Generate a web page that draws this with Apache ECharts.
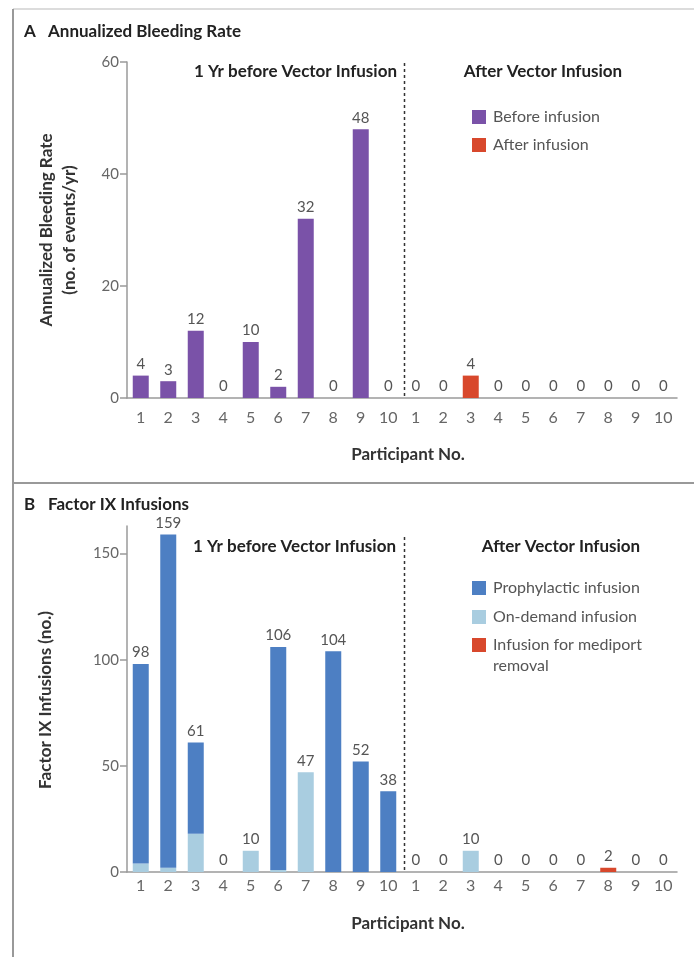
<!DOCTYPE html>
<html>
<head>
<meta charset="utf-8">
<script src="https://cdn.jsdelivr.net/npm/echarts@6/dist/echarts.min.js"></script>
<style>
  html, body { margin: 0; padding: 0; background: #fff; }
  #chart { width: 694px; height: 957px; }
</style>
</head>
<body>
<div id="chart"></div>
<script>
// Participant numbers shown under each half of both panels
const participants = [1, 2, 3, 4, 5, 6, 7, 8, 9, 10];

// Panel A: annualized bleeding rate (events/yr)
const bleedBefore = [4, 3, 12, 0, 10, 2, 32, 0, 48, 0];
const bleedAfter = [0, 0, 4, 0, 0, 0, 0, 0, 0, 0];

// Panel B: factor IX infusions (no.)
const prophBefore = [94, 157, 43, 0, 0, 105, 0, 104, 52, 38];
const demandBefore = [4, 2, 18, 0, 10, 1, 47, 0, 0, 0];
const mediportBefore = [0, 0, 0, 0, 0, 0, 0, 0, 0, 0];
const prophAfter = [0, 0, 0, 0, 0, 0, 0, 0, 0, 0];
const demandAfter = [0, 0, 10, 0, 0, 0, 0, 0, 0, 0];
const mediportAfter = [0, 0, 0, 0, 0, 0, 0, 2, 0, 0];

// Axis ticks
const ticksA = [0, 20, 40, 60];
const ticksB = [0, 50, 100, 150];

const FONT = 'Lato, "DejaVu Sans", sans-serif';
const C_PURPLE = '#7a52a8';
const C_RED = '#d8482c';
const C_BLUE = '#4d7fc3';
const C_LIGHT = '#a9cde0';
const C_AXIS = '#9a9a9a';
const C_TICKTXT = '#666';
const C_LABEL = '#555';

// 20 unique category keys: b1..b10 then a1..a10
const cats = participants.map(p => 'b' + p).concat(participants.map(p => 'a' + p));
const pad = n => new Array(n).fill('-');
const both = (before, after) => before.concat(after);

const totalsB = both(prophBefore, prophAfter).map((v, i) =>
  v + both(demandBefore, demandAfter)[i] + both(mediportBefore, mediportAfter)[i]);

const chart = echarts.init(document.getElementById('chart'), null, { renderer: 'canvas' });

function xAxisDef(gridIndex, labelMargin, nameGap) {
  return {
    type: 'category', gridIndex: gridIndex, data: cats,
    axisLine: { lineStyle: { color: C_AXIS, width: 1.5 } },
    axisTick: { alignWithLabel: true, length: 7, lineStyle: { color: C_AXIS, width: 1.5 } },
    axisLabel: {
      color: C_TICKTXT, fontFamily: FONT, fontSize: 16, margin: labelMargin, interval: 0,
      formatter: v => v.slice(1)
    },
    name: 'Participant No.', nameLocation: 'middle', nameGap: nameGap,
    nameTextStyle: { color: '#333', fontFamily: FONT, fontSize: 17, fontWeight: 'bold', padding: [0, 0, 0, 12] }
  };
}

function yAxisDef(gridIndex, max, ticks) {
  return {
    type: 'value', gridIndex: gridIndex, min: 0, max: max,
    axisLine: { show: true, lineStyle: { color: C_AXIS, width: 1.5 } },
    axisTick: { show: true, length: 7, customValues: ticks, lineStyle: { color: C_AXIS, width: 1.5 } },
    axisLabel: { color: C_TICKTXT, fontFamily: FONT, fontSize: 15, margin: 8, customValues: ticks },
    splitLine: { show: false }
  };
}

const labelStyle = {
  show: true, position: 'top', distance: 4,
  color: C_LABEL, fontFamily: FONT, fontSize: 15
};

const option = {
  animation: false,
  backgroundColor: '#fff',
  grid: [
    { left: 127, width: 550, top: 62, height: 336 },
    { left: 127, width: 550, top: 526, height: 346 }
  ],
  xAxis: [xAxisDef(0, 12, 48), xAxisDef(1, 6, 43)],
  yAxis: [yAxisDef(0, 60, ticksA), yAxisDef(1, 163, ticksB)],
  series: [
    {
      name: 'Before infusion', type: 'bar', xAxisIndex: 0, yAxisIndex: 0, stack: 'a',
      barWidth: 16, data: bleedBefore.concat(pad(10)),
      itemStyle: { color: C_PURPLE }, label: labelStyle
    },
    {
      name: 'After infusion', type: 'bar', xAxisIndex: 0, yAxisIndex: 0, stack: 'a',
      barWidth: 16, data: pad(10).concat(bleedAfter),
      itemStyle: { color: C_RED }, label: labelStyle
    },
    {
      name: 'On-demand infusion', type: 'bar', xAxisIndex: 1, yAxisIndex: 1, stack: 'b',
      barWidth: 16, data: both(demandBefore, demandAfter),
      itemStyle: { color: C_LIGHT }
    },
    {
      name: 'Prophylactic infusion', type: 'bar', xAxisIndex: 1, yAxisIndex: 1, stack: 'b',
      barWidth: 16, data: both(prophBefore, prophAfter),
      itemStyle: { color: C_BLUE }
    },
    {
      name: 'Infusion for mediport removal', type: 'bar', xAxisIndex: 1, yAxisIndex: 1, stack: 'b',
      barWidth: 16, data: both(mediportBefore, mediportAfter),
      itemStyle: { color: C_RED }
    },
    {
      // zero-height cap carrying the total count above each stack
      name: 'total', type: 'bar', xAxisIndex: 1, yAxisIndex: 1, stack: 'b',
      barWidth: 16, data: totalsB.map(() => 0),
      itemStyle: { color: 'rgba(0,0,0,0)' },
      label: Object.assign({}, labelStyle, { formatter: p => String(totalsB[p.dataIndex]) })
    }
  ]
};

chart.setOption(option);

// Separator between the "before" and "after" halves
function dividerX(gridIdx) {
  const x9 = chart.convertToPixel({ xAxisIndex: gridIdx }, 'b10');
  const x10 = chart.convertToPixel({ xAxisIndex: gridIdx }, 'a1');
  return Math.round((x9 + x10) / 2) + 2.5;
}
const yA0 = chart.convertToPixel({ yAxisIndex: 0 }, 0);
const yB0 = chart.convertToPixel({ yAxisIndex: 1 }, 0);
const dxA = dividerX(0);
const dxB = dividerX(1);

const hdr = { fill: '#222', font: 'bold 17px ' + FONT };
const ttl = { fill: '#222', font: 'bold 17px ' + FONT };
const legTxt = { fill: '#555', font: '16px ' + FONT };
const yTtl = 'bold 17px ' + FONT;

function text(x, y, str, style, align) {
  return {
    type: 'text', x: x, y: y,
    style: Object.assign({ text: str, textAlign: align || 'left', textVerticalAlign: 'middle' }, style)
  };
}
function swatch(x, y, color) {
  return { type: 'rect', shape: { x: x, y: y - 7, width: 14, height: 14 }, style: { fill: color } };
}
function vtext(x, y, str) {
  return {
    type: 'text', x: x, y: y, rotation: Math.PI / 2,
    style: { text: str, textAlign: 'center', textVerticalAlign: 'middle', fill: '#333', font: yTtl }
  };
}

chart.setOption({
  graphic: [
    // frame and panel divider
    { type: 'line', shape: { x1: 13, y1: 9, x2: 694, y2: 9 }, style: { stroke: '#d0d0d0', lineWidth: 1.5 } },
    { type: 'line', shape: { x1: 13, y1: 9, x2: 13, y2: 957 }, style: { stroke: '#999', lineWidth: 2 } },
    { type: 'line', shape: { x1: 13, y1: 483, x2: 694, y2: 483 }, style: { stroke: '#999', lineWidth: 2 } },

    // panel titles
    text(24, 32, 'A', ttl),
    text(48, 32, 'Annualized Bleeding Rate', ttl),
    text(24, 505, 'B', ttl),
    text(48, 505, 'Factor IX Infusions', ttl),

    // y-axis titles
    vtext(47, 230, 'Annualized Bleeding Rate'),
    vtext(70, 230, '(no. of events/yr)'),
    vtext(46, 700, 'Factor IX Infusions (no.)'),

    // dashed separators
    { type: 'line', shape: { x1: dxA, y1: 63, x2: dxA, y2: yA0 }, style: { stroke: '#333', lineWidth: 1.5, lineDash: [3, 3] } },
    { type: 'line', shape: { x1: dxB, y1: 537, x2: dxB, y2: yB0 }, style: { stroke: '#333', lineWidth: 1.5, lineDash: [3, 3] } },

    // section headers
    text(397, 72, '1 Yr before Vector Infusion', hdr, 'right'),
    text(543, 72, 'After Vector Infusion', hdr, 'center'),
    text(396, 547, '1 Yr before Vector Infusion', hdr, 'right'),
    text(561, 547, 'After Vector Infusion', hdr, 'center'),

    // legend, panel A
    swatch(472, 117, C_PURPLE), text(493, 117, 'Before infusion', legTxt),
    swatch(472, 145, C_RED), text(493, 145, 'After infusion', legTxt),

    // legend, panel B
    swatch(472, 588, C_BLUE), text(493, 588, 'Prophylactic infusion', legTxt),
    swatch(472, 617, C_LIGHT), text(493, 617, 'On-demand infusion', legTxt),
    swatch(472, 645, C_RED), text(493, 645, 'Infusion for mediport', legTxt),
    text(493, 666, 'removal', legTxt)
  ]
});
</script>
</body>
</html>
